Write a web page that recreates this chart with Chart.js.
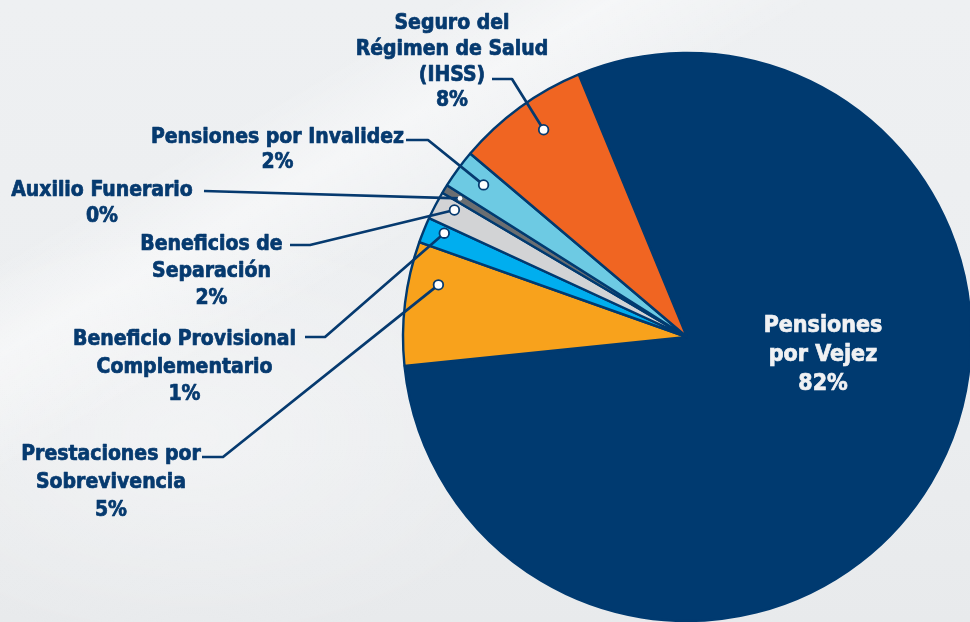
<!DOCTYPE html>
<html><head><meta charset="utf-8">
<script src="https://cdn.jsdelivr.net/npm/chart.js@4.4.1/dist/chart.umd.min.js"></script>
<style>
html,body{margin:0;padding:0;width:970px;height:622px;overflow:hidden;}
body{background:
 linear-gradient(150deg, rgba(255,255,255,0) 22%, rgba(255,255,255,0.45) 30%, rgba(255,255,255,0) 40%),
 radial-gradient(ellipse 500px 300px at 20% 70%, rgba(255,255,255,0.35), rgba(255,255,255,0) 70%),
 linear-gradient(180deg,#eef0f2 0%,#eceef0 60%,#e8eaec 100%);}
#wrap{position:absolute;left:0;top:0;width:1400px;height:800px;}
</style></head><body>
<div id="wrap"><canvas id="c" width="1400" height="800"></canvas></div>
<script>
// ---- data ----
const categories = ["Pensiones por Vejez","Prestaciones por Sobrevivencia","Beneficio Provisional Complementario","Beneficios de Separación","Auxilio Funerario","Pensiones por Invalidez","Seguro del Régimen de Salud (IHSS)"];
const shareValues = [79.6, 7.05, 1.45, 1.6, 0.5, 2.2, 7.6];
const percentLabels = ["82%","5%","1%","2%","0%","2%","8%"];
const labelLines = [["Pensiones","por Vejez"],["Prestaciones por","Sobrevivencia"],["Beneficio Provisional","Complementario"],["Beneficios de","Separación"],["Auxilio Funerario"],["Pensiones por Invalidez"],["Seguro del","Régimen de Salud","(IHSS)"]];

// ---- styles / layout ----
const sliceColors = ["#003a70","#f8a21c","#00aeef","#d2d3d5","#6b6e71","#6dcae3","#f06522"];
const NAVY = "#063a6f";
const FONT = "bold 21px 'DejaVu Sans Condensed', 'DejaVu Sans', sans-serif";
const FONT_BIG = "bold 23px 'DejaVu Sans Condensed', 'DejaVu Sans', sans-serif";
const layout = {
  0:{cx:823, base:[332,361,390], color:"#f0f1f3", font:FONT_BIG},
  1:{cx:111, base:[460,488,516], elbow:[[202,457],[223,457]], r:254, da:5},
  2:{cx:184.5, base:[345,373,400], elbow:[[305,337],[325,337]], r:264, da:1},
  3:{cx:211.5, base:[250,277,304], elbow:[[290,245],[310,245]], r:265, da:1},
  4:{cx:102, base:[196,222], elbow:[[204,191]], r:266, da:0, small:true},
  5:{cx:277.5, base:[143,168], elbow:[[406,140],[428,140]], r:254, da:0.5},
  6:{cx:452, base:[29,55,81,106], elbow:[[492,79],[512,79]], r:252, da:1.4}
};

const labelPlugin = {
  id:'calloutLabels',
  afterDatasetsDraw(chart){
    const ctx = chart.ctx;
    const meta = chart.getDatasetMeta(0);
    ctx.save();
    ctx.textAlign = 'center';
    ctx.textBaseline = 'alphabetic';
    meta.data.forEach((arc, i) => {
      const L = layout[i];
      const lines = labelLines[i].concat([percentLabels[i]]);
      if (L.elbow){
        const mid = (arc.startAngle + arc.endAngle)/2 + L.da*Math.PI/180;
        const dx = arc.x + Math.cos(mid)*L.r, dy = arc.y + Math.sin(mid)*L.r;
        ctx.strokeStyle = NAVY; ctx.lineWidth = 2.7; ctx.lineJoin='round';
        ctx.beginPath();
        L.elbow.forEach((p,k)=>{ if(k===0) ctx.moveTo(p[0],p[1]); else ctx.lineTo(p[0],p[1]); });
        ctx.lineTo(dx,dy); ctx.stroke();
        ctx.beginPath();
        if (L.small){ ctx.arc(dx,dy,2.3,0,Math.PI*2); ctx.fillStyle='#fff'; ctx.fill(); }
        else { ctx.arc(dx,dy,4.8,0,Math.PI*2); ctx.fillStyle='#fff'; ctx.fill(); ctx.lineWidth=1.8; ctx.stroke(); }
      }
      ctx.font = L.font || FONT;
      ctx.fillStyle = L.color || NAVY;
      ctx.strokeStyle = L.color || NAVY;
      ctx.lineWidth = 0.7;
      lines.forEach((t,k)=>{ ctx.fillText(t, L.cx, L.base[k]); ctx.strokeText(t, L.cx, L.base[k]); });
    });
    ctx.restore();
  }
};

new Chart(document.getElementById('c'), {
  type:'pie',
  data:{ labels:categories, datasets:[{ data:shareValues, backgroundColor:sliceColors, borderColor:"#003a70", borderWidth:2.4, radius:284 }]},
  options:{
    responsive:false, animation:false, rotation:337.6,
    layout:{padding:{left:0, top:0, right:26, bottom:126}},
    plugins:{legend:{display:false}, tooltip:{enabled:false}}
  },
  plugins:[labelPlugin]
});
</script>
</body></html>
